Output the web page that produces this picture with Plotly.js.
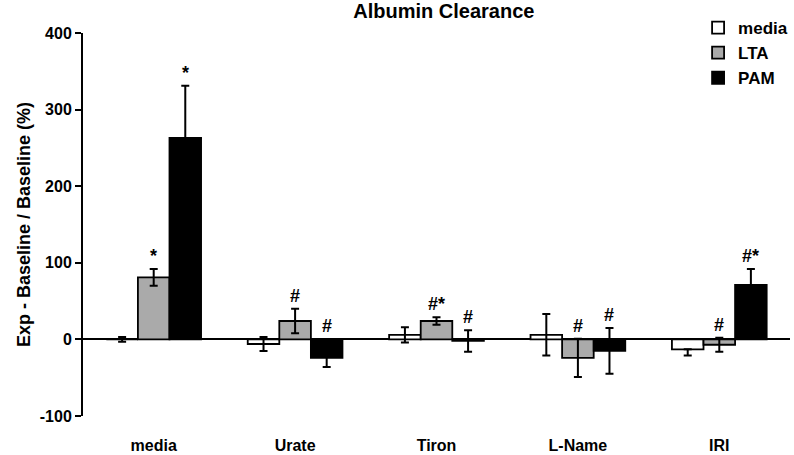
<!DOCTYPE html>
<html>
<head>
<meta charset="utf-8">
<script src="https://cdn.plot.ly/plotly-3.0.1.min.js"></script>
<style>
  html, body { margin: 0; padding: 0; background: #fff; }
  #chart { width: 794px; height: 455px; }
</style>
</head>
<body>
<div id="chart"></div>
<script>
(function() {

  var categories = ['media', 'Urate', 'Tiron', 'L-Name', 'IRI'];

  var mediaVals = [0, -6, 6, 6, -13];
  var mediaErrUp = [3, 9, 10, 27, 0];
  var mediaErrDown = [3, 9, 10, 27, 8];
  var mediaMarks = ['', '', '', '', ''];

  var ltaVals = [81, 24, 24, -24, -7];
  var ltaErr = [11, 16, 5, 25, 9];
  var ltaMarks = ['*', '#', '#*', '#', '#'];

  var pamVals = [263, -24, -2, -15, 71];
  var pamErr = [68, 12, 14, 30, 21];
  var pamMarks = ['*', '#', '#', '#', '#*'];

  var yTickVals = [-100, 0, 100, 200, 300, 400];
  var yTickText = ['-100', '0', '100', '200', '300', '400'];

  var fam = 'Liberation Sans, Arial, sans-serif';
  function bold(size) { return { family: fam, size: size, color: '#000', weight: 'bold' }; }

  function barTrace(name, vals, up, down, fill) {
    return {
      x: categories,
      y: vals,
      type: 'bar',
      name: name,
      marker: { color: fill, line: { color: '#000', width: 1.8 } },
      error_y: {
        type: 'data', symmetric: false,
        array: up, arrayminus: down,
        color: '#000', thickness: 2, width: 4
      }
    };
  }

  var data = [
    barTrace('media', mediaVals, mediaErrUp, mediaErrDown, '#ffffff'),
    barTrace('LTA', ltaVals, ltaErr, ltaErr, '#aaaaaa'),
    barTrace('PAM', pamVals, pamErr, pamErr, '#000000')
  ];

  // significance markers sit just above each bar's upper error cap
  var barGap = 0.33;
  var catPx = 707 / categories.length;
  var barPx = catPx * (1 - barGap) / 3;
  var series = [
    { vals: mediaVals, err: mediaErrUp, marks: mediaMarks },
    { vals: ltaVals, err: ltaErr, marks: ltaMarks },
    { vals: pamVals, err: pamErr, marks: pamMarks }
  ];
  var annotations = [];
  series.forEach(function(s, si) {
    categories.forEach(function(c, ci) {
      if (!s.marks[ci]) return;
      annotations.push({
        x: c, y: Math.max(0, s.vals[ci] + s.err[ci]),
        xref: 'x', yref: 'y',
        text: s.marks[ci], showarrow: false,
        xshift: (si - 1) * barPx, yshift: 13,
        font: bold(18)
      });
    });
  });

  var layout = {
    width: 794, height: 455,
    margin: { l: 83, r: 4, t: 33, b: 39, autoexpand: false },
    paper_bgcolor: '#fff', plot_bgcolor: '#fff',
    font: bold(16),
    title: {
      text: 'Albumin Clearance',
      font: bold(20),
      x: 0.559, xanchor: 'center', y: 0.976, yanchor: 'middle'
    },
    barmode: 'group',
    bargap: barGap,
    bargroupgap: 0,
    showlegend: true,
    legend: {
      x: 0.87, y: 1.06, xanchor: 'left', yanchor: 'top',
      font: bold(17),
      itemwidth: 30, tracegroupgap: 0, bgcolor: 'rgba(0,0,0,0)'
    },
    xaxis: {
      type: 'category',
      showline: false, showgrid: false, zeroline: false,
      ticks: '',
      ticklabelstandoff: 18,
      tickfont: bold(16)
    },
    yaxis: {
      range: [-100, 400],
      tickmode: 'array', tickvals: yTickVals, ticktext: yTickText,
      showline: true, linecolor: '#000', linewidth: 2,
      ticks: 'outside', ticklen: 6, tickwidth: 2, tickcolor: '#000',
      showgrid: false,
      zeroline: true, zerolinecolor: '#000', zerolinewidth: 2,
      tickfont: bold(16),
      title: {
        text: 'Exp - Baseline / Baseline (%)',
        font: bold(18),
        standoff: 4
      }
    },
    annotations: annotations
  };

  Plotly.newPlot('chart', data, layout, { displayModeBar: false, staticPlot: true });

})();
</script>
</body>
</html>
